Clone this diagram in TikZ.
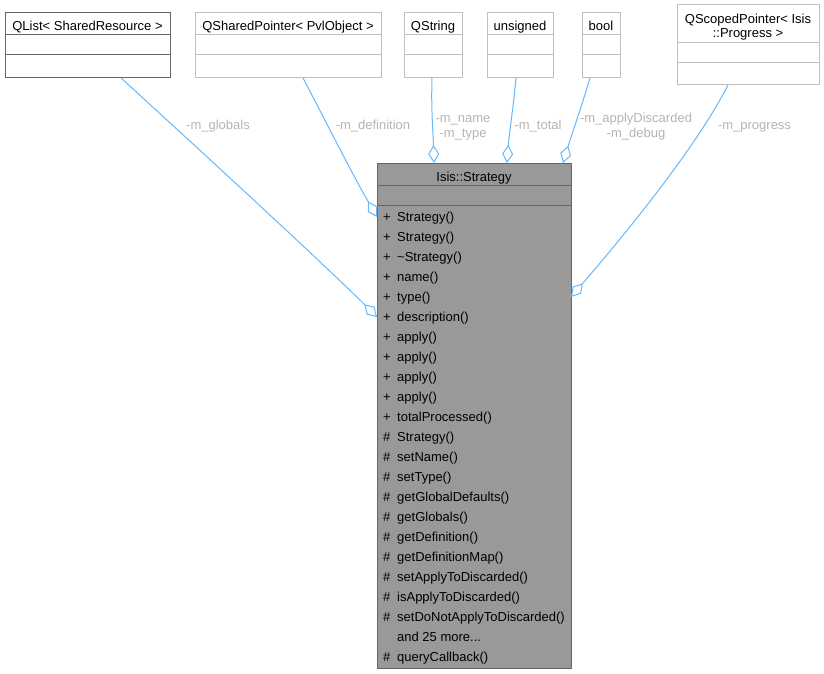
\documentclass[tikz,border=0pt]{standalone}
\usepackage{fontspec}
\setmainfont{Liberation Sans}
\usetikzlibrary{arrows.meta}
\definecolor{edgeblue}{HTML}{63B8FF}
\definecolor{lightborder}{HTML}{BFBFBF}
\definecolor{darkborder}{HTML}{666666}
\definecolor{mainfill}{HTML}{999999}
\definecolor{lblgray}{HTML}{B4B4B4}
\newcommand\mymoredots{and 25 more...}
\newcommand\myhash{\#}
\begin{document}
\begin{tikzpicture}[x=1pt,y=-1pt,
  font=\fontsize{13}{14.5}\selectfont,
  cls/.style={draw=#1, line width=1pt, fill=white, rectangle, inner sep=0pt, outer sep=0pt},
  sep/.style={draw=#1, line width=1pt},
  ttl/.style={inner sep=0pt, anchor=base, align=center},
  mem/.style={inner sep=0pt, anchor=base west},
  lbl/.style={inner sep=0pt, anchor=base, align=center, text=lblgray},
  uses/.style={draw=edgeblue, line width=1pt, -{Diamond[open,length=18pt,width=11pt]}}
]
\useasboundingbox (0,0) rectangle (824,674);

% QList
\node[cls=darkborder, minimum width=165pt, minimum height=65pt] (qlist) at (87.5,45.5) {};
\draw[sep=darkborder] (5,35) -- (170,35) (5,55) -- (170,55);
\node[ttl] (qlistT) at (87.5,31) {QList< SharedResource >};

% QSharedPointer
\node[cls=lightborder, minimum width=186pt, minimum height=65pt] (qsp) at (288,45.5) {};
\draw[sep=lightborder] (195,35) -- (381,35) (195,55) -- (381,55);
\node[ttl] (qspT) at (288,31) {QSharedPointer< PvlObject >};

% QString
\node[cls=lightborder, minimum width=58pt, minimum height=65pt] (qstr) at (433,45.5) {};
\draw[sep=lightborder] (404,35) -- (462,35) (404,55) -- (462,55);
\node[ttl] (qstrT) at (433,31) {QString};

% unsigned
\node[cls=lightborder, minimum width=66pt, minimum height=65pt] (uns) at (520,45.5) {};
\draw[sep=lightborder] (487,35) -- (553,35) (487,55) -- (553,55);
\node[ttl] (unsT) at (520,31) {unsigned};

% bool
\node[cls=lightborder, minimum width=38pt, minimum height=65pt] (bool) at (601,45.5) {};
\draw[sep=lightborder] (582,35) -- (620,35) (582,55) -- (620,55);
\node[ttl] (boolT) at (601,31) {bool};

% QScopedPointer
\node[cls=lightborder, minimum width=142pt, minimum height=80pt] (qscp) at (748,45) {};
\draw[sep=lightborder] (677,43) -- (819,43) (677,63) -- (819,63);
\node[ttl] (qscpT) at (748,38) {QScopedPointer< Isis\\::Progress >};

% Isis::Strategy
\node[draw=darkborder, fill=mainfill, line width=1pt, rectangle, inner sep=0pt, outer sep=0pt,
      minimum width=194pt, minimum height=505pt] (strat) at (474,415.5) {};
\draw[sep=darkborder] (377,185) -- (571,185) (377,205) -- (571,205);
\node[ttl] (stratT) at (474,181.5) {Isis::Strategy};

\foreach \i/\s/\m in {
  1/+/Strategy(), 2/+/Strategy(), 3/+/\textasciitilde Strategy(), 4/+/name(), 5/+/type(),
  6/+/description(), 7/+/apply(), 8/+/apply(), 9/+/apply(), 10/+/apply(),
  11/+/totalProcessed(), 12/\myhash/Strategy(), 13/\myhash/setName(), 14/\myhash/setType(),
  15/\myhash/getGlobalDefaults(), 16/\myhash/getGlobals(), 17/\myhash/getDefinition(),
  18/\myhash/getDefinitionMap(), 19/\myhash/setApplyToDiscarded(), 20/\myhash/isApplyToDiscarded(),
  21/\myhash/setDoNotApplyToDiscarded(), 22/{}/\mymoredots, 23/\myhash/queryCallback()}{
  \node[mem] (m\i) at (383,{221+20*(\i-1)}) {\makebox[14pt][l]{\s}\m};
}

% connectors
\draw[uses] ([xshift=33.5pt]qlist.south) .. controls (200,150) and (330,270) .. ([yshift=98.5pt]strat.west);
\draw[uses] ([xshift=15pt]qsp.south) .. controls (320,110) and (350,170) .. ([yshift=198.5pt]strat.west);
\draw[uses] ([xshift=-1pt]qstr.south) .. controls (431,110) and (433,130) .. ([xshift=-40pt]strat.north);
\draw[uses] ([xshift=-4pt]uns.south) .. controls (513,110) and (509,135) .. ([xshift=33pt]strat.north);
\draw[uses] ([xshift=-11pt]bool.south) .. controls (582,105) and (570,140) .. ([xshift=89pt]strat.north);
\draw[uses] ([xshift=-20pt]qscp.south) .. controls (695,150) and (620,240) .. ([yshift=118.5pt]strat.east);

% labels
\node[lbl] (lg) at (218,130) {-m\_globals};
\node[lbl] (ld) at (373,130) {-m\_definition};
\node[lbl] (ln) at (463,137) {-m\_name\\-m\_type};
\node[lbl] (lt) at (538,130) {-m\_total};
\node[lbl] (la) at (636,137) {-m\_applyDiscarded\\-m\_debug};
\node[lbl] (lp) at (754.5,130) {-m\_progress};
\end{tikzpicture}
\end{document}
